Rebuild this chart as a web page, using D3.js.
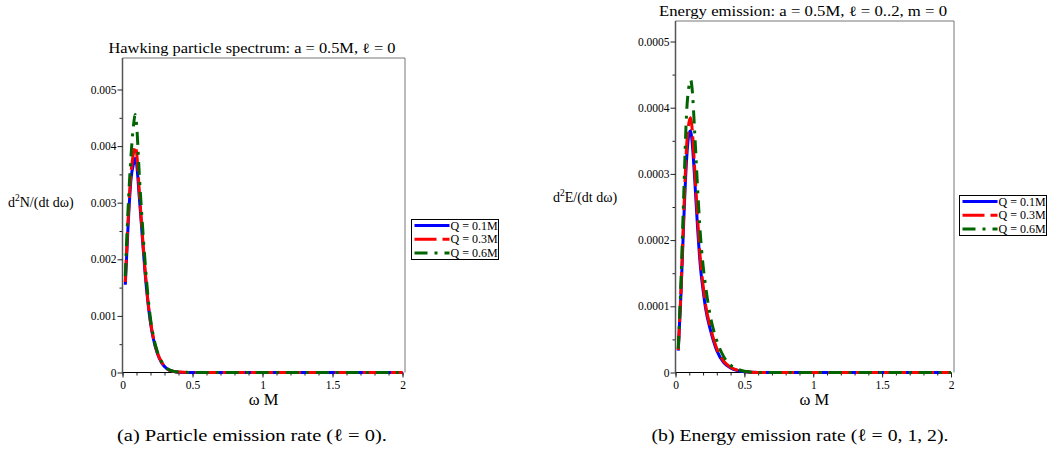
<!DOCTYPE html>
<html>
<head>
<meta charset="utf-8">
<script src="https://cdn.jsdelivr.net/npm/d3@7"></script>
<style>
  body { margin: 0; background: #fff; }
  text { font-family: "Liberation Serif", "Times New Roman", Times, serif; fill: #000; }
</style>
</head>
<body>
<script>
// ---- data ----
const seriesNames = ["Q = 0.1M", "Q = 0.3M", "Q = 0.6M"];
const seriesColors = ["#0000ff", "#ff0000", "#006400"];
const seriesDash = [null, "22,6", "13,7,3,7"];

const omegaA = [0.02, 0.04, 0.06, 0.08, 0.09, 0.1, 0.12, 0.14, 0.16, 0.18, 0.2, 0.22, 0.25, 0.28, 0.32, 0.36, 0.4, 0.5, 0.6, 0.8, 1.0, 1.2, 1.4, 1.6, 1.8, 2.0];
const rateA_q01 = [0.00155, 0.0026, 0.0034, 0.0037, 0.00378, 0.0037, 0.0031, 0.00245, 0.0018, 0.00128, 0.00088, 0.0006, 0.00033, 0.00017, 0.00006, 0.00002, 0.000006, 0.0000005, 0, 0, 0, 0, 0, 0, 0, 0];
const rateA_q03 = [0.0016, 0.0027, 0.0035, 0.0039, 0.0040, 0.0039, 0.0032, 0.0025, 0.00185, 0.0013, 0.0009, 0.00062, 0.00034, 0.00018, 0.000065, 0.000022, 0.000007, 0.000001, 0, 0, 0, 0, 0, 0, 0, 0];
const rateA_q06 = [0.0017, 0.0029, 0.0038, 0.0044, 0.00456, 0.0044, 0.0035, 0.0027, 0.002, 0.0014, 0.00095, 0.00065, 0.00036, 0.00019, 0.00007, 0.000025, 0.000008, 0.000001, 0, 0, 0, 0, 0, 0, 0, 0];

const omegaB = [0.02, 0.04, 0.06, 0.08, 0.1, 0.11, 0.12, 0.14, 0.16, 0.18, 0.2, 0.22, 0.25, 0.3, 0.35, 0.4, 0.45, 0.5, 0.6, 0.8, 1.0, 1.2, 1.4, 1.6, 1.8, 2.0];
const rateB_q01 = [0.000033, 0.00012, 0.00023, 0.00032, 0.000362, 0.000365, 0.00035, 0.00029, 0.00022, 0.000162, 0.000125, 0.000095, 0.000067, 0.000033, 0.000015, 0.000007, 0.000003, 0.000001, 0, 0, 0, 0, 0, 0, 0, 0];
const rateB_q03 = [0.000034, 0.000125, 0.00024, 0.00034, 0.00038, 0.000385, 0.00037, 0.000305, 0.000235, 0.000172, 0.000132, 0.0001, 0.000071, 0.000036, 0.000017, 0.000008, 0.0000035, 0.0000015, 0, 0, 0, 0, 0, 0, 0, 0];
const rateB_q06 = [0.000036, 0.00014, 0.00027, 0.00039, 0.000435, 0.000442, 0.00043, 0.00036, 0.00028, 0.00021, 0.000162, 0.000128, 0.000088, 0.000048, 0.000024, 0.000011, 0.000005, 0.000002, 0, 0, 0, 0, 0, 0, 0, 0];

const xTicks = [0, 0.5, 1, 1.5, 2];
const xTickLabels = ["0", "0.5", "1", "1.5", "2"];
const yTicksA = [0, 0.001, 0.002, 0.003, 0.004, 0.005];
const yTickLabelsA = ["0", "0.001", "0.002", "0.003", "0.004", "0.005"];
const yTicksB = [0, 0.0001, 0.0002, 0.0003, 0.0004, 0.0005];
const yTickLabelsB = ["0", "0.0001", "0.0002", "0.0003", "0.0004", "0.0005"];

const W = 1055, H = 453;
const svg = d3.select("body").append("svg")
    .attr("width", W)
    .attr("height", H);

function panel(p) {
    const g = svg.append("g");
    const x = d3.scaleLinear().domain([0, 2]).range([p.x0, p.x1]);
    const y = d3.scaleLinear().domain([0, p.ymax]).range([p.y0, p.ytop]);

    // frame (top + right)
    g.append("path")
        .attr("d", `M${p.x0},${p.frameTop}H${p.frameRight}V${p.y0}`)
        .attr("fill", "none").attr("stroke", "#777").attr("stroke-width", 1);

    // minor ticks
    g.append("g").attr("transform", `translate(0,${p.y0})`)
        .call(d3.axisBottom(x).tickValues(d3.range(0, 2.0001, 0.1)).tickSize(3).tickFormat("").tickSizeOuter(0))
        .call(a => a.select(".domain").remove());
    g.append("g").attr("transform", `translate(${p.x0},0)`)
        .call(d3.axisLeft(y).tickValues(p.minor).tickSize(3).tickFormat("").tickSizeOuter(0))
        .call(a => a.select(".domain").remove());

    // major axes
    const xa = g.append("g").attr("transform", `translate(0,${p.y0})`)
        .call(d3.axisBottom(x).tickValues(xTicks).tickSize(5).tickPadding(3)
            .tickFormat((d, i) => xTickLabels[i]).tickSizeOuter(0));
    xa.select(".domain").attr("d", `M${p.x0},0H${p.x1}`).attr("stroke", "#000");
    const ya = g.append("g").attr("transform", `translate(${p.x0},0)`)
        .call(d3.axisLeft(y).tickValues(p.yTicks).tickSize(5).tickPadding(1)
            .tickFormat((d, i) => p.yLabels[i]).tickSizeOuter(0));
    ya.select(".domain").attr("d", `M0,${p.y0}V${p.frameTop}`).attr("stroke", "#555").attr("stroke-width", 1.5);
    g.selectAll(".tick text")
        .style("font-family", "'Liberation Serif', 'Times New Roman', serif")
        .style("font-size", "11.5px");
    g.selectAll(".tick line").attr("stroke", "#222");

    // curves
    const line = d3.line()
        .x(d => x(d[0])).y(d => y(d[1]))
        .curve(d3.curveMonotoneX);
    p.series.forEach((vals, k) => {
        g.append("path")
            .datum(p.omega.map((w, i) => [w, vals[i]]))
            .attr("d", line)
            .attr("fill", "none")
            .attr("stroke", seriesColors[k])
            .attr("stroke-width", 3)
            .attr("stroke-dasharray", seriesDash[k]);
    });

    // title
    g.append("text")
        .attr("x", p.titleX).attr("y", p.titleY)
        .attr("text-anchor", "middle")
        .attr("textLength", p.titleW).attr("lengthAdjust", "spacingAndGlyphs")
        .style("font-size", "14px")
        .text(p.title);

    // axis labels
    g.append("text")
        .attr("x", (p.x0 + p.x1) / 2 + 1).attr("y", 405)
        .attr("text-anchor", "middle")
        .style("font-size", "16.5px")
        .text("ω M");
    const yl = g.append("text")
        .attr("x", p.ylabX).attr("y", p.ylabY)
        .style("font-size", "14px");
    yl.append("tspan").text("d");
    yl.append("tspan").attr("dy", -6).style("font-size", "9.5px").text("2");
    yl.append("tspan").attr("dy", 6).text(p.ylabRest);

    // legend
    const lg = g.append("g").attr("transform", `translate(${p.legX},${p.legY})`);
    lg.append("rect")
        .attr("width", 87).attr("height", 40)
        .attr("fill", "#fff").attr("stroke", "#000").attr("stroke-width", 1);
    seriesNames.forEach((name, k) => {
        const cy = 6 + k * 13.8;
        lg.append("line")
            .attr("x1", 3).attr("x2", 38).attr("y1", cy).attr("y2", cy)
            .attr("stroke", seriesColors[k]).attr("stroke-width", 3)
            .attr("stroke-dasharray", seriesDash[k]);
        lg.append("text")
            .attr("x", 39).attr("y", cy + 4)
            .style("font-size", "12px")
            .text(name);
    });

    // caption
    g.append("text")
        .attr("x", p.capX).attr("y", 441)
        .attr("text-anchor", "middle")
        .attr("textLength", p.capW).attr("lengthAdjust", "spacingAndGlyphs")
        .style("font-size", "17.5px")
        .text(p.caption);
}

panel({
    x0: 122.5, x1: 402.5, y0: 372.5, ytop: 89.5, ymax: 0.005,
    frameTop: 58, frameRight: 405,
    omega: omegaA, series: [rateA_q01, rateA_q03, rateA_q06],
    yTicks: yTicksA, yLabels: yTickLabelsA,
    minor: [0.0005, 0.0015, 0.0025, 0.0035, 0.0045],
    title: "Hawking particle spectrum: a = 0.5M, ℓ = 0", titleX: 252, titleY: 53, titleW: 287,
    ylabX: 8, ylabY: 207, ylabRest: "N/(dt dω)",
    legX: 411.5, legY: 219.5,
    caption: "(a) Particle emission rate (ℓ = 0).", capX: 252, capW: 270
});

panel({
    x0: 675.5, x1: 951, y0: 372.5, ytop: 41.5, ymax: 0.0005,
    frameTop: 21, frameRight: 954,
    omega: omegaB, series: [rateB_q01, rateB_q03, rateB_q06],
    yTicks: yTicksB, yLabels: yTickLabelsB,
    minor: [0.00005, 0.00015, 0.00025, 0.00035, 0.00045],
    title: "Energy emission: a = 0.5M, ℓ = 0..2, m = 0", titleX: 803, titleY: 16, titleW: 288,
    ylabX: 553, ylabY: 202, ylabRest: "E/(dt dω)",
    legX: 959.5, legY: 195.5,
    caption: "(b) Energy emission rate (ℓ = 0, 1, 2).", capX: 800, capW: 297
});
</script>
</body>
</html>
